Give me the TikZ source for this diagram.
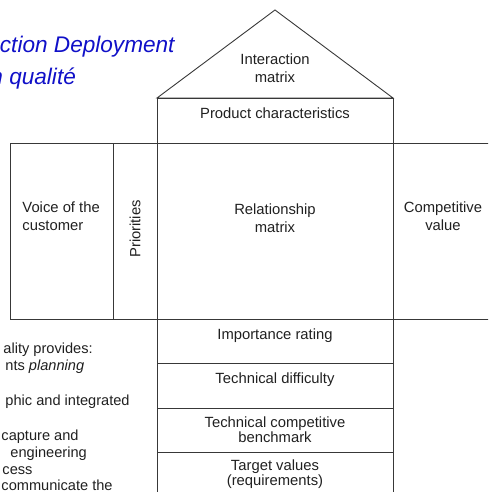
\documentclass[tikz,border=0pt]{standalone}
\usepackage{fontspec}
\setmainfont{Liberation Sans}
\usepackage{xcolor}
\usepackage{tikz}
\definecolor{titleblue}{HTML}{1010C8}
\definecolor{linegray}{HTML}{383838}
\definecolor{textgray}{HTML}{202020}

\begin{document}
\begin{tikzpicture}[x=1pt, y=-1pt, line width=0.9pt, color=linegray,
  lbl/.style={text=textgray, font=\fontsize{14.8}{18}\selectfont, align=center, inner sep=0pt, anchor=base},
  note/.style={text=textgray, font=\fontsize{14.6}{17}\selectfont, inner sep=0pt, anchor=base west},
  title/.style={text=titleblue, font=\fontsize{22.6}{30}\selectfont\itshape, inner sep=0pt, anchor=base west}]

\useasboundingbox (0,0) rectangle (488,492);
\clip (0,0) rectangle (488,492);

% Roof (interaction matrix)
\draw (157,98) -- (275,10) -- (393,98) -- cycle;

% Product characteristics
\draw (157,98) rectangle (393,143);

% Main row of the house
\draw (10,143) rectangle (500,319);
\foreach \x in {113,157,393} {
  \draw (\x,143) -- (\x,319);
}

% Basement rows
\draw (157,319) -- (157,500);
\draw (393,319) -- (393,500);
\foreach \y in {363,408,452} {
  \draw (157,\y) -- (393,\y);
}

% Title
\node[title] (title1) at (-0.5,53) {ction Deployment};
\node[title] (title2) at (-10,85) {n qualité};

% Labels (multi-line ones sit on the baseline of their last line)
\node[lbl] (inter) at (275,83) {Interaction\\matrix};
\node[lbl] (prodchar) at (275,118) {Product characteristics};
\node[lbl, align=left, anchor=base west] (voice) at (22,230) {Voice of the\\customer};
\node[lbl, anchor=center, rotate=90] (prio) at (135,229) {Priorities};
\node[lbl] (relmat) at (275,232) {Relationship\\matrix};
\node[lbl] (compval) at (443,230) {Competitive\\value};
\node[lbl] (imprate) at (275,339) {Importance rating};
\node[lbl] (techdiff) at (275,383) {Technical difficulty};
\node[lbl, font=\fontsize{14.8}{15}\selectfont] (techbench) at (275,442) {Technical competitive\\benchmark};
\node[lbl, font=\fontsize{14.8}{15}\selectfont] (target) at (275,485) {Target values\\(requirements)};

% Side text
\node[note] (n1) at (3,353) {ality provides:};
\node[note] (n2) at (5,370) {nts \textit{planning}};
\node[note] (n3) at (5,405) {phic and integrated};
\node[note] (n4) at (1,440) {capture and};
\node[note] (n5) at (10,457) {engineering};
\node[note] (n6) at (2,474) {cess};
\node[note] (n7) at (1,490) {communicate the};

\end{tikzpicture}
\end{document}
